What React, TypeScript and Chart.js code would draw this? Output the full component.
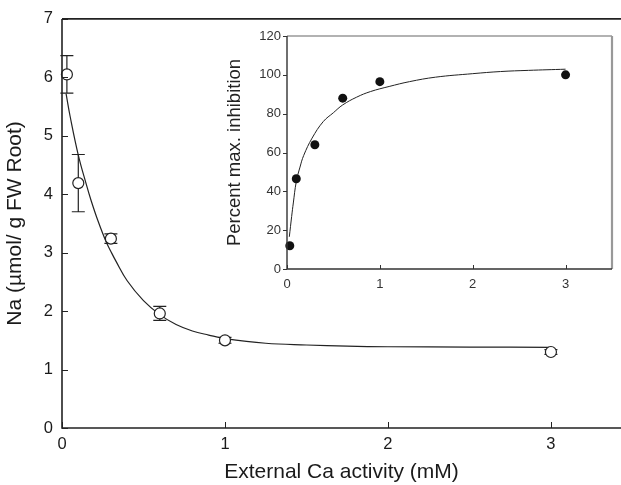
import React, { useEffect, useRef } from "react";
import { Chart, registerables } from "chart.js";

Chart.register(...registerables);

// ---------- Main chart data ----------
const naX = [0.03, 0.1, 0.3, 0.6, 1, 3];
const naY = [6.05, 4.19, 3.24, 1.96, 1.5, 1.3];
const naErr = [0.32, 0.49, 0.08, 0.12, 0.05, 0.04];
const naFitX = [0.025, 0.05, 0.1, 0.15, 0.18, 0.22, 0.27, 0.3, 0.33, 0.4, 0.5, 0.6, 0.7, 0.8, 0.9, 1, 1.25, 1.5, 1.75, 2, 2.5, 3];
const naFitY = [5.72, 5.33, 4.67, 4.16, 3.88, 3.55, 3.19, 3.02, 2.86, 2.52, 2.18, 1.94, 1.77, 1.66, 1.59, 1.53, 1.45, 1.42, 1.4, 1.39, 1.385, 1.38];
const mainYTicks = [0, 1, 2, 3, 4, 5, 6, 7];
const mainXTicks = [0, 1, 2, 3];

// ---------- Inset data ----------
const inhX = [0.03, 0.1, 0.3, 0.6, 1, 3];
const inhY = [12, 46.5, 64, 88, 96.5, 100];
const inhFitX = [0.025, 0.05, 0.068, 0.1, 0.14, 0.18, 0.27, 0.39, 0.5, 0.6, 0.75, 0.9, 1.1, 1.32, 1.6, 2, 2.3, 2.6, 3];
const inhFitY = [16.6, 27, 34, 45, 52.5, 58.5, 67.4, 75.9, 80.5, 84.5, 88.5, 91.4, 94, 96.5, 98.8, 100.6, 101.7, 102.3, 102.9];
const insetYTicks = [0, 20, 40, 60, 80, 100, 120];
const insetXTicks = [0, 1, 2, 3];

const FONT = "'Liberation Sans', Arial, Helvetica, sans-serif";

function axesPlugin(opts: any) {
  return {
    id: "axesFrame" + opts.name,
    afterDraw(chart: any) {
      const { ctx, chartArea } = chart;
      const { left, right, top, bottom } = chartArea;
      const x = chart.scales.x;
      const y = chart.scales.y;
      ctx.save();
      ctx.lineCap = "butt";
      ctx.strokeStyle = opts.axisColor;
      ctx.lineWidth = 1;
      ctx.beginPath();
      x.ticks.forEach((t: any) => {
        const px = Math.round(x.getPixelForValue(t.value)) + 0.5;
        ctx.moveTo(px, bottom);
        ctx.lineTo(px, bottom - opts.xTickLen);
      });
      y.ticks.forEach((t: any) => {
        const py = Math.round(y.getPixelForValue(t.value)) + 0.5;
        ctx.moveTo(left, py);
        ctx.lineTo(left + opts.yTickLen, py);
      });
      ctx.stroke();
      if (opts.top) {
        ctx.strokeStyle = opts.top.color;
        ctx.lineWidth = opts.top.width;
        ctx.beginPath();
        ctx.moveTo(left, top);
        ctx.lineTo(right, top);
        ctx.stroke();
      }
      if (opts.right) {
        ctx.strokeStyle = opts.right.color;
        ctx.lineWidth = opts.right.width;
        ctx.beginPath();
        ctx.moveTo(right, top);
        ctx.lineTo(right, bottom);
        ctx.stroke();
      }
      ctx.strokeStyle = opts.axisColor;
      ctx.lineWidth = opts.axisWidth;
      ctx.beginPath();
      ctx.moveTo(left, top);
      ctx.lineTo(left, bottom);
      ctx.lineTo(right, bottom);
      ctx.stroke();
      ctx.restore();
    },
  };
}

const errorBarPlugin = {
  id: "errBars",
  beforeDatasetsDraw(chart: any) {
    const { ctx } = chart;
    const x = chart.scales.x;
    const y = chart.scales.y;
    ctx.save();
    ctx.strokeStyle = "#222";
    ctx.lineWidth = 1.2;
    naX.forEach((v, i) => {
      const px = x.getPixelForValue(v);
      const t = y.getPixelForValue(naY[i] + naErr[i]);
      const b = y.getPixelForValue(naY[i] - naErr[i]);
      ctx.beginPath();
      ctx.moveTo(px, t);
      ctx.lineTo(px, b);
      ctx.moveTo(px - 6.5, t);
      ctx.lineTo(px + 6.5, t);
      ctx.moveTo(px - 6.5, b);
      ctx.lineTo(px + 6.5, b);
      ctx.stroke();
    });
    ctx.restore();
  },
};

const noSidePad = (s: any) => {
  s.paddingLeft = 0;
  s.paddingRight = 0;
};

export default function App() {
  const mainRef = useRef<HTMLCanvasElement>(null);
  const insetRef = useRef<HTMLCanvasElement>(null);

  useEffect(() => {
    const main = new Chart(mainRef.current as HTMLCanvasElement, {
      type: "line",
      data: {
        datasets: [
          {
            label: "Na",
            data: naX.map((v, i) => ({ x: v, y: naY[i] })),
            showLine: false,
            pointRadius: 5.5,
            pointBorderWidth: 1.2,
            pointBorderColor: "#222",
            pointBackgroundColor: "#fff",
            clip: false as any,
          },
          {
            label: "fit",
            data: naFitX.map((v, i) => ({ x: v, y: naFitY[i] })),
            borderColor: "#222",
            borderWidth: 1.2,
            pointRadius: 0,
            tension: 0.4,
            fill: false,
            clip: false as any,
          },
        ],
      },
      options: {
        responsive: false,
        animation: false,
        devicePixelRatio: 1,
        layout: { autoPadding: false, padding: { top: 17, right: 0, left: 0, bottom: 0 } },
        plugins: { legend: { display: false }, tooltip: { enabled: false } },
        scales: {
          x: {
            type: "linear",
            min: 0,
            max: 3.43,
            afterFit: (s: any) => { s.height = 57; noSidePad(s); },
            afterBuildTicks: (s: any) => { s.ticks = mainXTicks.map((v) => ({ value: v })); },
            grid: { display: false, drawTicks: false },
            border: { display: false },
            ticks: { color: "#1a1a1a", font: { family: FONT, size: 16.5 }, padding: 7, maxRotation: 0 },
            title: {
              display: true,
              text: "External Ca activity (mM)",
              color: "#1a1a1a",
              font: { family: FONT, size: 21 },
              padding: { top: 0, bottom: 0 },
            },
          },
          y: {
            type: "linear",
            min: 0,
            max: 7,
            afterFit: (s: any) => { s.width = 62; },
            afterBuildTicks: (s: any) => { s.ticks = mainYTicks.map((v) => ({ value: v })); },
            grid: { display: false, drawTicks: false },
            border: { display: false },
            ticks: { color: "#1a1a1a", font: { family: FONT, size: 16.5 }, padding: 9 },
            title: {
              display: true,
              text: "Na (µmol/ g FW Root)",
              color: "#1a1a1a",
              font: { family: FONT, size: 21 },
              padding: { top: 3, bottom: 0 },
            },
          },
        },
      },
      plugins: [
        errorBarPlugin,
        axesPlugin({ name: "main", axisColor: "#222", axisWidth: 1.6, xTickLen: 6, yTickLen: 6, top: { color: "#222", width: 1.6 } }),
      ],
    } as any);

    const inset = new Chart(insetRef.current as HTMLCanvasElement, {
      type: "line",
      data: {
        datasets: [
          {
            label: "inh",
            data: inhX.map((v, i) => ({ x: v, y: inhY[i] })),
            showLine: false,
            pointRadius: 4.5,
            pointBorderWidth: 0,
            pointBackgroundColor: "#111",
            pointBorderColor: "#111",
            clip: false as any,
          },
          {
            label: "fit",
            data: inhFitX.map((v, i) => ({ x: v, y: inhFitY[i] })),
            borderColor: "#222",
            borderWidth: 1,
            pointRadius: 0,
            tension: 0.4,
            fill: false,
            clip: false as any,
          },
        ],
      },
      options: {
        responsive: false,
        animation: false,
        devicePixelRatio: 1,
        layout: { autoPadding: false, padding: { top: 16, right: 8, left: 0, bottom: 0 } },
        plugins: { legend: { display: false }, tooltip: { enabled: false } },
        scales: {
          x: {
            type: "linear",
            min: 0,
            max: 3.5,
            afterFit: (s: any) => { s.height = 36; noSidePad(s); },
            afterBuildTicks: (s: any) => { s.ticks = insetXTicks.map((v) => ({ value: v })); },
            grid: { display: false, drawTicks: false },
            border: { display: false },
            ticks: { color: "#333", font: { family: FONT, size: 13 }, padding: 8, maxRotation: 0 },
          },
          y: {
            type: "linear",
            min: 0,
            max: 120,
            afterFit: (s: any) => { s.width = 67; },
            afterBuildTicks: (s: any) => { s.ticks = insetYTicks.map((v) => ({ value: v })); },
            grid: { display: false, drawTicks: false },
            border: { display: false },
            ticks: { color: "#333", font: { family: FONT, size: 13 }, padding: 6 },
            title: {
              display: true,
              text: "Percent max. inhibition",
              color: "#222",
              font: { family: FONT, size: 18.5 },
              padding: { top: 4, bottom: 0 },
            },
          },
        },
      },
      plugins: [
        axesPlugin({
          name: "inset",
          axisColor: "#333",
          axisWidth: 1.4,
          xTickLen: 4,
          yTickLen: -4,
          top: { color: "#999", width: 1.6 },
          right: { color: "#999", width: 2.2 },
        }),
      ],
    } as any);

    return () => {
      main.destroy();
      inset.destroy();
    };
  }, []);

  return (
    <div style={{ position: "fixed", left: 0, top: 0, width: 621, height: 485, background: "#fff", overflow: "hidden" }}>
      <canvas ref={mainRef} width={621} height={485} style={{ position: "absolute", left: 0, top: 0 }} />
      <canvas ref={insetRef} width={400} height={285} style={{ position: "absolute", left: 220, top: 20 }} />
    </div>
  );
}
